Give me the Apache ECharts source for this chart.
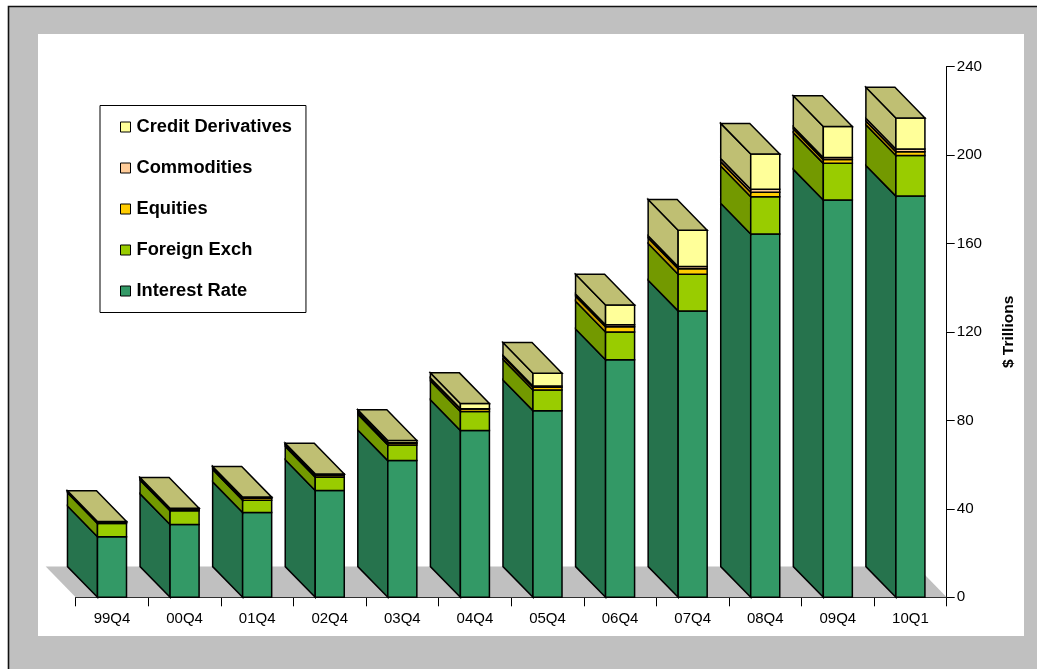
<!DOCTYPE html>
<html>
<head>
<meta charset="utf-8">
<style>html,body{margin:0;padding:0;background:#fff}#c{width:1037px;height:669px}</style>
<script src="https://cdn.jsdelivr.net/npm/echarts@6/dist/echarts.min.js"></script>
</head>
<body>
<div id="c"></div>
<script>
const categories = ['99Q4','00Q4','01Q4','02Q4','03Q4','04Q4','05Q4','06Q4','07Q4','08Q4','09Q4','10Q1'];
const interestRate = [27.4,32.9,38.3,48.3,61.8,75.4,84.4,107.4,129.5,164.3,179.6,181.4];
const foreignExch = [6.0,6.2,5.6,6.0,7.1,8.6,9.3,12.6,16.6,16.8,16.6,18.4];
const equities = [0.5,0.8,0.9,0.8,0.8,1.1,1.3,2.3,2.5,2.0,1.7,1.7];
const commodities = [0.1,0.1,0.1,0.1,0.2,0.2,0.5,0.9,1.0,1.4,1.0,1.2];
const creditDerivatives = [0.3,0.3,0.4,0.6,1.0,2.3,5.8,9.0,16.4,15.9,14.0,14.0];
const layerNames = ['Interest Rate','Foreign Exch','Equities','Commodities','Credit Derivatives'];
const layerValues = [interestRate,foreignExch,equities,commodities,creditDerivatives];
const frontColors = ['#339966','#99CC00','#FFCC00','#FFCC99','#FFFF99'];
const sideColors = ['#26734D','#739900','#BF9900','#BF9973','#BFBF73'];
const topColor = '#BFBF73';
const depthX = 30, depthY = 30.7, barShare = 0.4, edge = 1.5;

function poly(points, fill) {
  return {type:'polygon', shape:{points}, style:{fill, stroke:'#000', lineWidth:edge, lineJoin:'miter'}, silent:true};
}
function renderLayer(layer) {
  return function (params, api) {
    const i = api.value(0), hi = api.value(1), lo = api.value(2);
    const band = api.size([1,0])[0], half = band*barShare/2;
    const cHi = api.coord([i,hi]), cLo = api.coord([i,lo]);
    const xl = cHi[0]-half, xr = cHi[0]+half, yt = cHi[1], yb = cLo[1];
    const children = [
      poly([[xl,yb],[xl-depthX,yb-depthY],[xl-depthX,yt-depthY],[xl,yt]], sideColors[layer]),
      poly([[xl,yb],[xr,yb],[xr,yt],[xl,yt]], frontColors[layer])
    ];
    if (layer === layerNames.length-1) {
      children.push(poly([[xl,yt],[xl-depthX,yt-depthY],[xr-depthX,yt-depthY],[xr,yt]], topColor));
    }
    return {type:'group', children};
  };
}
const layerSeries = layerNames.map((name,layer) => {
  const data = categories.map((c,i) => {
    let lo = 0;
    for (let k=0;k<layer;k++) lo += layerValues[k][i];
    return [i, lo+layerValues[layer][i], lo];
  });
  return {name, type:'custom', coordinateSystem:'cartesian2d', clip:false, z:3,
    itemStyle:{color:frontColors[layer]}, data, encode:{x:0,y:1}, renderItem:renderLayer(layer)};
});
const floorSeries = {name:'floor', type:'custom', coordinateSystem:'cartesian2d', clip:false, z:2, silent:true,
  data:[[0,0]], encode:{x:0,y:1},
  renderItem(params){
    const g = params.coordSys, b = g.y+g.height;
    return {type:'polygon', shape:{points:[[g.x,b],[g.x+g.width,b],[g.x+g.width-depthX,b-depthY],[g.x-depthX,b-depthY]]},
      style:{fill:'#C0C0C0'}, silent:true};
  }};

const chart = echarts.init(document.getElementById('c'), null, {renderer:'canvas'});
chart.setOption({
  animation:false,
  backgroundColor:'#fff',
  textStyle:{fontFamily:'"Liberation Sans"'},
  graphic:[
    {type:'rect', z:-10, silent:true, shape:{x:8,y:6,width:1029,height:663}, style:{fill:'#C0C0C0'}},
    {type:'rect', z:-9, silent:true, shape:{x:38,y:34,width:986,height:602}, style:{fill:'#fff'}},
    {type:'polyline', z:-8, silent:true, shape:{points:[[8.5,669],[8.5,6.5],[1037,6.5]]}, style:{fill:'none',stroke:'#111',lineWidth:1.6}}
  ],
  grid:{left:75.7, top:66.5, width:871, height:530.8, containLabel:false},
  legend:{
    orient:'vertical', left:100, top:105.5, icon:'rect', itemWidth:10, itemHeight:10, itemGap:23,
    padding:[12.5,14,12.5,20], backgroundColor:'#fff', borderColor:'#000', borderWidth:1,
    selectedMode:false,
    itemStyle:{borderColor:'#000',borderWidth:1},
    textStyle:{fontFamily:'"Liberation Sans"',fontSize:18.3,fontWeight:'bold',color:'#000',padding:[0,0,0,1]},
    data:layerNames.slice().reverse()
  },
  xAxis:{type:'category', data:categories, boundaryGap:true,
    axisLine:{lineStyle:{color:'#000',width:1}},
    axisTick:{show:true,length:9,lineStyle:{color:'#000',width:1}},
    axisLabel:{color:'#000',fontSize:15,margin:14,interval:0,fontFamily:'"Liberation Sans"'}},
  yAxis:{type:'value', position:'right', min:0, max:240, interval:40,
    name:'$ Trillions', nameLocation:'middle', nameGap:54, nameRotate:90,
    nameTextStyle:{color:'#000',fontSize:15.5,fontWeight:'bold',fontFamily:'"Liberation Sans"'},
    splitLine:{show:false},
    axisLine:{show:true,lineStyle:{color:'#000',width:1}},
    axisTick:{show:true,length:8,lineStyle:{color:'#000',width:1}},
    axisLabel:{color:'#000',fontSize:15.2,margin:10,fontFamily:'"Liberation Sans"'}},
  series:[floorSeries].concat(layerSeries)
});
</script>
</body>
</html>
